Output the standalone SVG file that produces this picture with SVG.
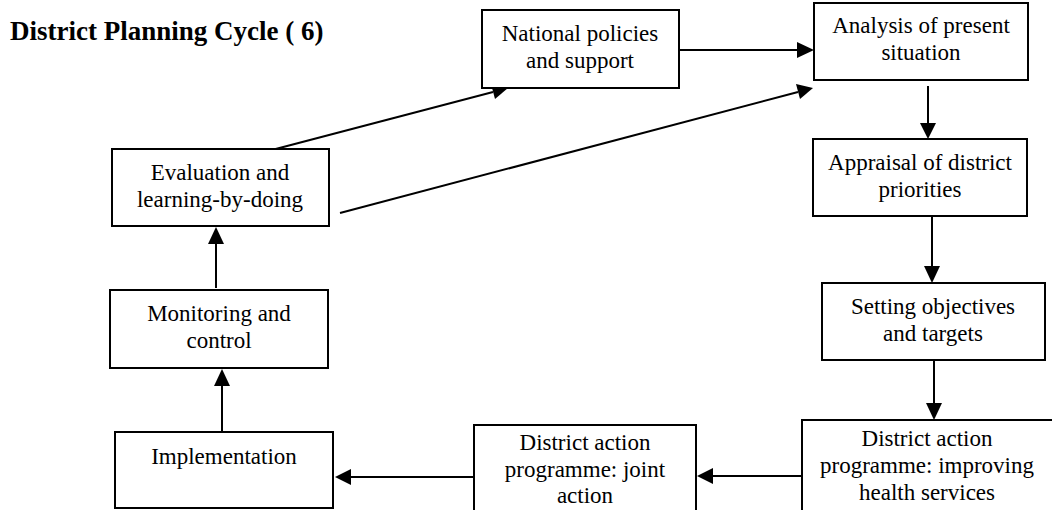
<svg xmlns="http://www.w3.org/2000/svg" width="1052" height="510" viewBox="0 0 1052 510">
<defs>
<style>
.box{fill:#fff;stroke:#000;stroke-width:2}
.t{font-family:"Liberation Serif","Times New Roman",serif;font-size:23px;fill:#000;text-anchor:middle}
.title{font-family:"Liberation Serif","Times New Roman",serif;font-size:27px;font-weight:bold;fill:#000}
.c{stroke:#000;stroke-width:2;fill:none}
.h{fill:#000}
</style>
</defs>
<rect width="1052" height="510" fill="#fff"/>
<text class="title" x="10" y="40">District Planning Cycle ( 6)</text>

<g id="connectors">
<line class="c" x1="671" y1="50" x2="798" y2="50"/>
<path class="h" d="M797,42 L814,50 L797,58 z"/>
<line class="c" x1="928" y1="86" x2="928" y2="124"/>
<path class="h" d="M920,123 L928,139 L936,123 z"/>
<line class="c" x1="932" y1="216" x2="932" y2="267"/>
<path class="h" d="M924,266 L932,283 L940,266 z"/>
<line class="c" x1="934" y1="360" x2="934" y2="404"/>
<path class="h" d="M926,403 L934,420 L942,403 z"/>
<line class="c" x1="802" y1="476" x2="712" y2="476"/>
<path class="h" d="M713,468 L697,476 L713,484 z"/>
<line class="c" x1="474" y1="477" x2="350" y2="477"/>
<path class="h" d="M351,469 L335,477 L351,485 z"/>
<line class="c" x1="222" y1="432" x2="222" y2="385"/>
<path class="h" d="M214,386 L222,369 L230,386 z"/>
<line class="c" x1="216" y1="288" x2="216" y2="243"/>
<path class="h" d="M208,244 L216,227 L224,244 z"/>
<line class="c" x1="268" y1="151" x2="493" y2="92"/>
<path class="h" d="M491,84 L508,88 L495,99 z"/>
<line class="c" x1="340" y1="213" x2="798" y2="92"/>
<path class="h" d="M796,84 L813,88 L800,99 z"/>
</g>

<g id="n-national"><rect class="box" x="482" y="10" width="197" height="78"/>
<text class="t" x="580" y="41">National policies</text><text class="t" x="580" y="68">and support</text></g>
<g id="n-analysis"><rect class="box" x="814" y="3" width="214" height="77"/>
<text class="t" x="921" y="33">Analysis of present</text><text class="t" x="921" y="60">situation</text></g>
<g id="n-appraisal"><rect class="box" x="813" y="139" width="214" height="77"/>
<text class="t" x="920" y="170">Appraisal of district</text><text class="t" x="920" y="197">priorities</text></g>
<g id="n-setting"><rect class="box" x="822" y="283" width="223" height="77"/>
<text class="t" x="933" y="314">Setting objectives</text><text class="t" x="933" y="341">and targets</text></g>
<g id="n-improving"><rect class="box" x="802" y="420" width="262" height="100"/>
<text class="t" x="927" y="446">District action</text><text class="t" x="927" y="473">programme: improving</text><text class="t" x="927" y="500">health services</text></g>
<g id="n-joint"><rect class="box" x="474" y="425" width="222" height="95"/>
<text class="t" x="585" y="450">District action</text><text class="t" x="585" y="477">programme:  joint</text><text class="t" x="585" y="503">action</text></g>
<g id="n-implementation"><rect class="box" x="115" y="432" width="218" height="76"/>
<text class="t" x="224" y="464">Implementation</text></g>
<g id="n-monitoring"><rect class="box" x="110" y="290" width="218" height="78"/>
<text class="t" x="219" y="321">Monitoring and</text><text class="t" x="219" y="348">control</text></g>
<g id="n-evaluation"><rect class="box" x="112" y="149" width="217" height="77"/>
<text class="t" x="220" y="180">Evaluation and</text><text class="t" x="220" y="207">learning-by-doing</text></g>
</svg>
